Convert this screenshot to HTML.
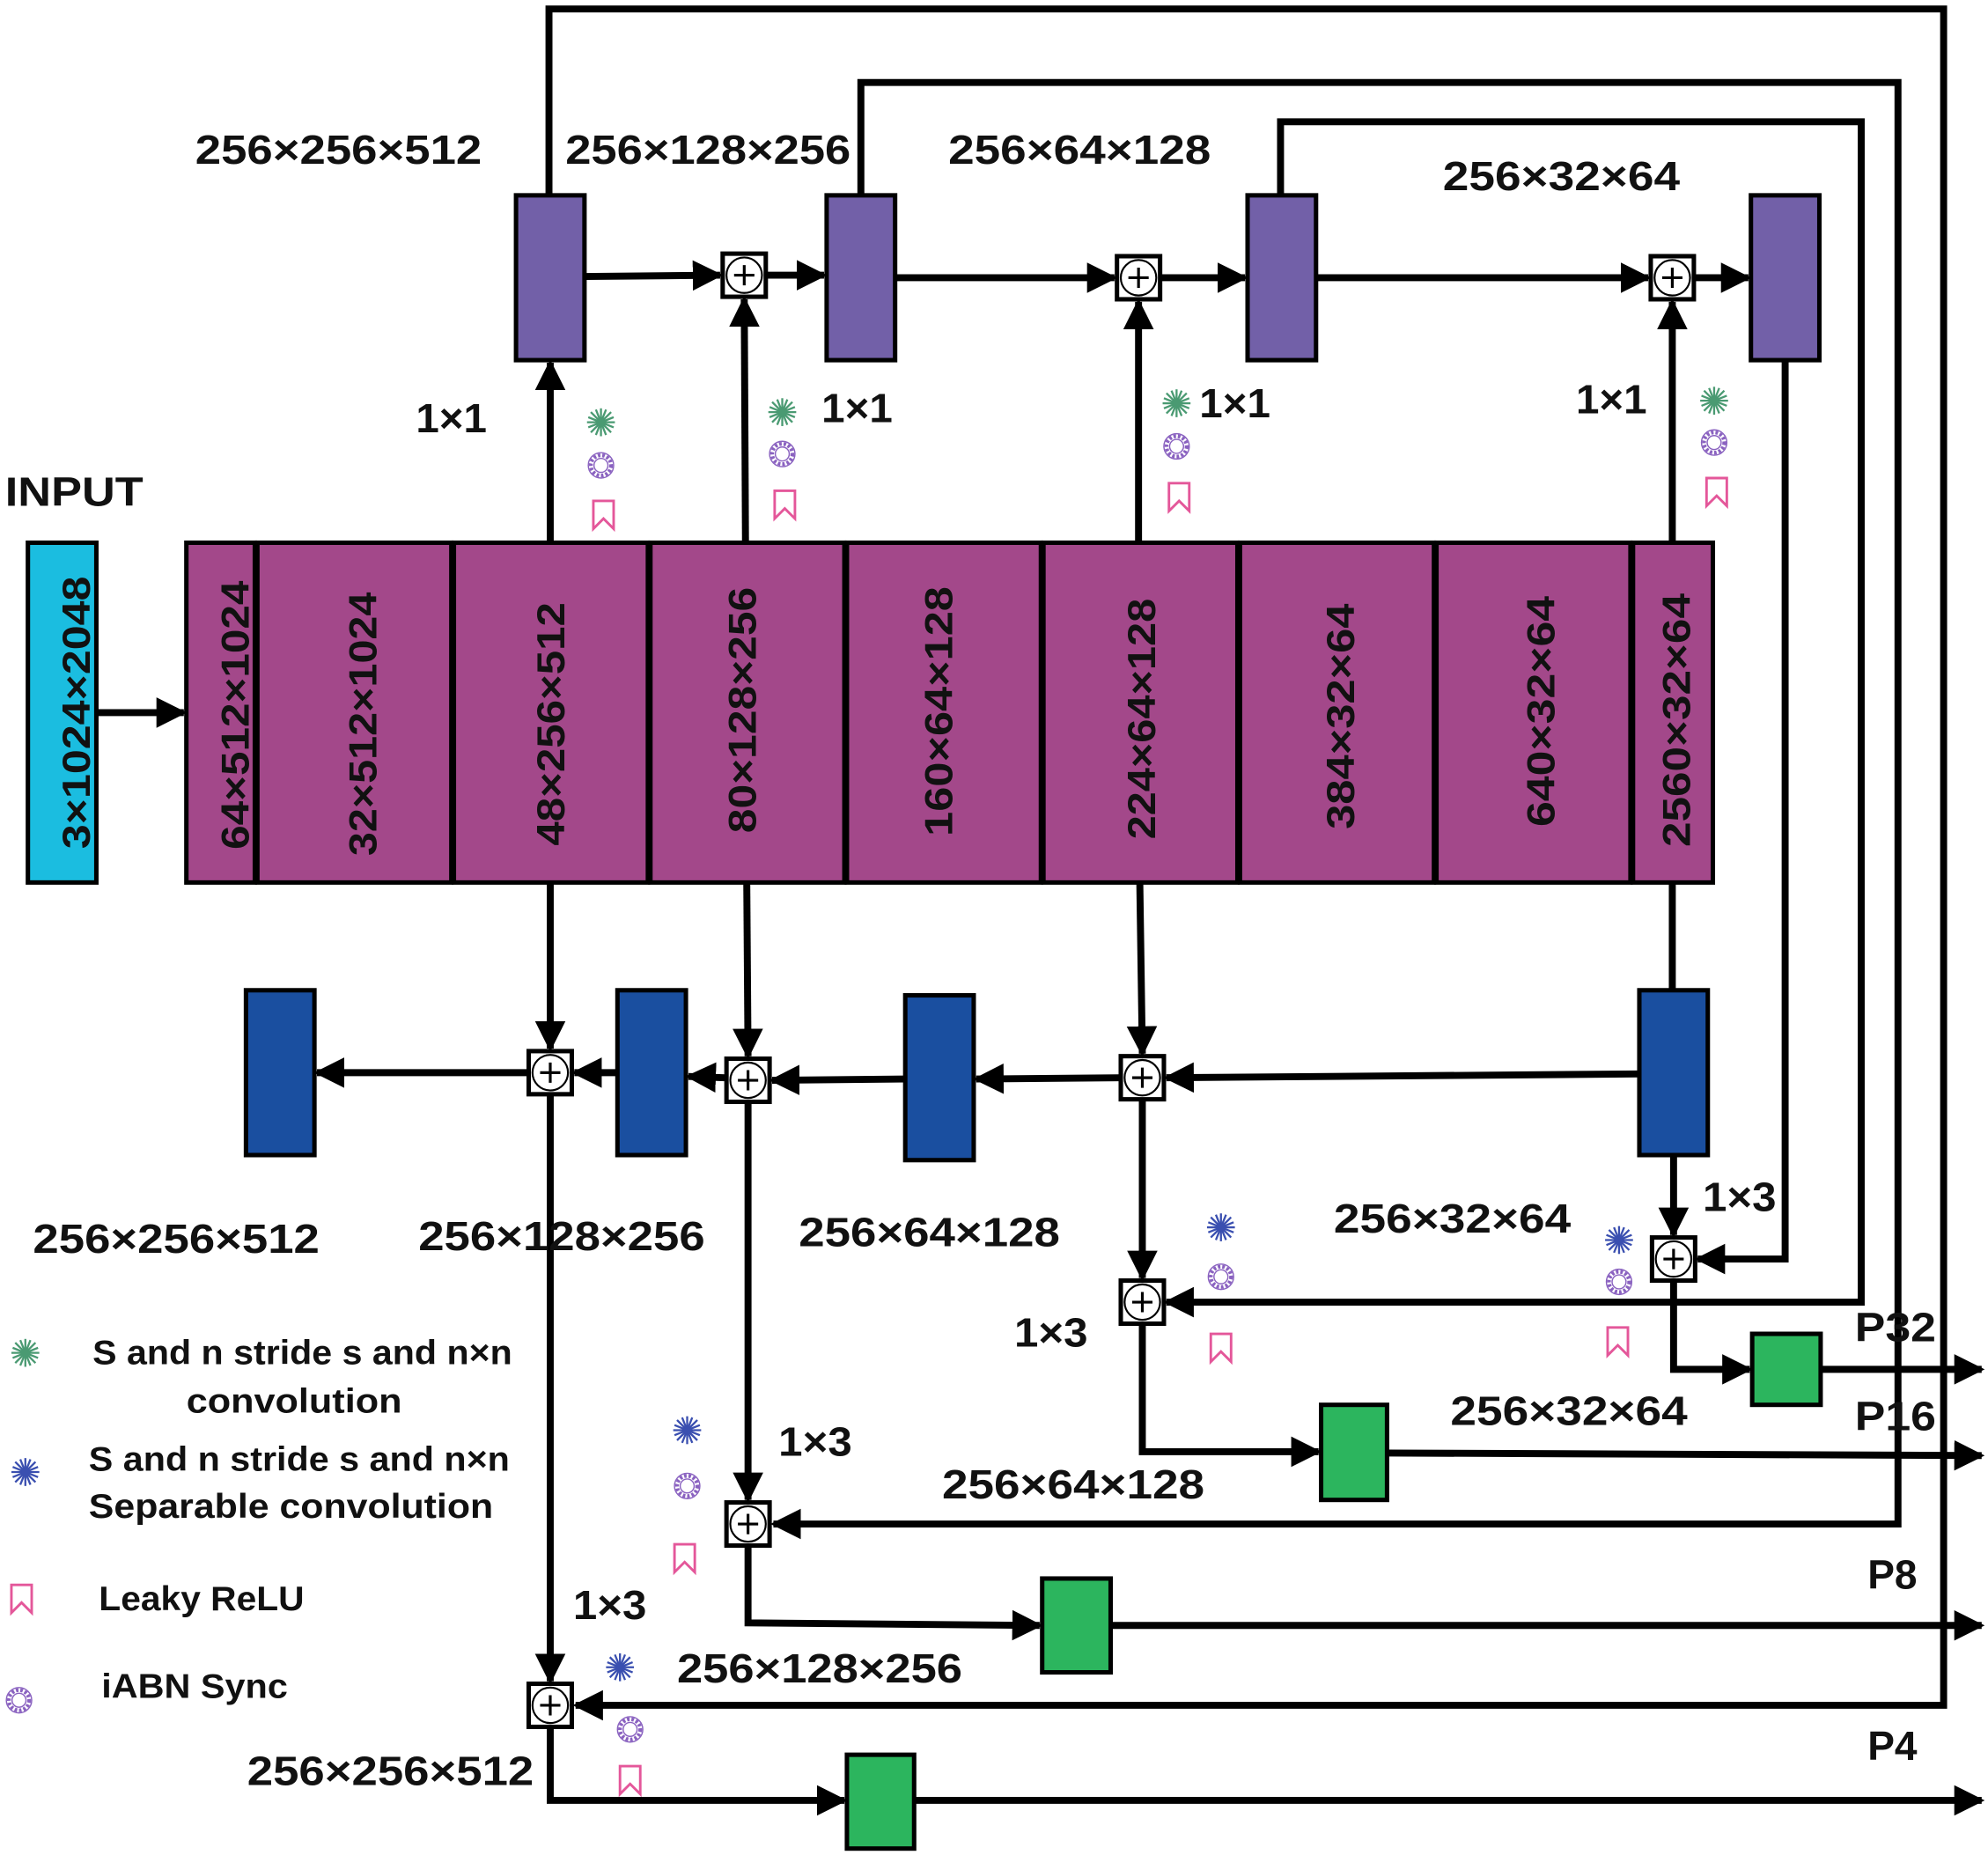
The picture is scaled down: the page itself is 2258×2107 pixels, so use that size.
<!DOCTYPE html>
<html><head><meta charset="utf-8"><style>html,body{margin:0;padding:0;background:#fff}svg{display:block}text{font-family:"Liberation Sans",sans-serif;font-weight:bold;fill:#111}</style></head><body>
<svg width="2258" height="2107" viewBox="0 0 1568 1463" xmlns="http://www.w3.org/2000/svg">
<defs>
<marker id="a" viewBox="0 0 10 10" refX="9" refY="5" markerWidth="24" markerHeight="26" markerUnits="userSpaceOnUse" orient="auto"><path d="M0,0 L10,5 L0,10 z" fill="#000"/></marker>
<g id="gs"><g stroke="#4a9a72" stroke-width="1.6"><line x1="-11" y1="0" x2="11" y2="0"/><line x1="0" y1="-11" x2="0" y2="11"/><line x1="-8" y1="-8" x2="8" y2="8"/><line x1="-8" y1="8" x2="8" y2="-8"/><line x1="-10" y1="-4" x2="10" y2="4"/><line x1="-10" y1="4" x2="10" y2="-4"/><line x1="-4" y1="-10" x2="4" y2="10"/><line x1="4" y1="-10" x2="-4" y2="10"/></g><circle r="3" fill="#4a9a72"/></g>
<g id="bs"><g stroke="#3a4fb0" stroke-width="1.6"><line x1="-11" y1="0" x2="11" y2="0"/><line x1="0" y1="-11" x2="0" y2="11"/><line x1="-8" y1="-8" x2="8" y2="8"/><line x1="-8" y1="8" x2="8" y2="-8"/><line x1="-10" y1="-4" x2="10" y2="4"/><line x1="-10" y1="4" x2="10" y2="-4"/><line x1="-4" y1="-10" x2="4" y2="10"/><line x1="4" y1="-10" x2="-4" y2="10"/></g><circle r="3" fill="#3a4fb0"/></g>
<g id="rg"><circle r="8" fill="none" stroke="#8a62c0" stroke-width="3" stroke-dasharray="2 1.5"/><circle r="10" fill="none" stroke="#8a62c0" stroke-width="1"/><circle r="5.5" fill="none" stroke="#8a62c0" stroke-width="1"/></g>
<path id="bm" d="M-8,-11 L8,-11 L8,11 L0,3 L-8,11 Z" fill="none" stroke="#e4579a" stroke-width="2"/>
<g id="pl"><rect x="-17" y="-17" width="34" height="34" fill="#fff" stroke="#000" stroke-width="3.5"/><circle r="14" fill="#fff" stroke="#000" stroke-width="1.5"/><path d="M-8,0 H8 M0,-8 V8" stroke="#000" stroke-width="2.2"/></g>
</defs>
<g stroke="#000" stroke-width="5.5" fill="none">
<polyline points="433,154 433,7 1533,7 1533,1345 454,1345" marker-end="url(#a)"/>
<polyline points="679,154 679,65 1497,65 1497,1202 610,1202" marker-end="url(#a)"/>
<polyline points="1010,154 1010,96 1468,96 1468,1027 920,1027" marker-end="url(#a)"/>
<polyline points="1408,284 1408,993 1339,993" marker-end="url(#a)"/>
<line x1="461" y1="218" x2="568" y2="217" marker-end="url(#a)"/>
<line x1="604" y1="217" x2="650" y2="217" marker-end="url(#a)"/>
<line x1="706" y1="219" x2="879" y2="219" marker-end="url(#a)"/>
<line x1="915" y1="219" x2="982" y2="219" marker-end="url(#a)"/>
<line x1="1038" y1="219" x2="1300" y2="219" marker-end="url(#a)"/>
<line x1="1336" y1="219" x2="1379" y2="219" marker-end="url(#a)"/>
<line x1="434" y1="428" x2="434" y2="286" marker-end="url(#a)"/>
<line x1="588" y1="428" x2="587" y2="236" marker-end="url(#a)"/>
<line x1="898" y1="428" x2="898" y2="238" marker-end="url(#a)"/>
<line x1="1319" y1="428" x2="1319" y2="238" marker-end="url(#a)"/>
<line x1="76" y1="562" x2="145" y2="562" marker-end="url(#a)"/>
<line x1="434" y1="696" x2="434" y2="827" marker-end="url(#a)"/>
<line x1="589" y1="696" x2="590" y2="833" marker-end="url(#a)"/>
<line x1="899" y1="696" x2="901" y2="831" marker-end="url(#a)"/>
<line x1="1319" y1="696" x2="1319" y2="781"/>
<line x1="1293" y1="847" x2="920" y2="850" marker-end="url(#a)"/>
<line x1="884" y1="850" x2="770" y2="851" marker-end="url(#a)"/>
<line x1="714" y1="851" x2="609" y2="852" marker-end="url(#a)"/>
<line x1="572" y1="850" x2="543" y2="849" marker-end="url(#a)"/>
<line x1="487" y1="846" x2="453" y2="846" marker-end="url(#a)"/>
<line x1="416" y1="846" x2="250" y2="846" marker-end="url(#a)"/>
<line x1="1320" y1="911" x2="1320" y2="974" marker-end="url(#a)"/>
<line x1="901" y1="868" x2="901" y2="1008" marker-end="url(#a)"/>
<line x1="590" y1="870" x2="590" y2="1183" marker-end="url(#a)"/>
<line x1="434" y1="864" x2="434" y2="1326" marker-end="url(#a)"/>
<polyline points="1320,1011 1320,1080 1380,1080" marker-end="url(#a)"/>
<line x1="1436" y1="1080" x2="1563" y2="1080" marker-end="url(#a)"/>
<polyline points="901,1045 901,1145 1040,1145" marker-end="url(#a)"/>
<line x1="1094" y1="1146" x2="1563" y2="1148" marker-end="url(#a)"/>
<polyline points="590,1220 590,1280 820,1282" marker-end="url(#a)"/>
<line x1="876" y1="1282" x2="1563" y2="1282" marker-end="url(#a)"/>
<polyline points="434,1363 434,1420 666,1420" marker-end="url(#a)"/>
<line x1="721" y1="1420" x2="1563" y2="1420" marker-end="url(#a)"/>
</g>
<g stroke="#000" stroke-width="3.5">
<rect x="407" y="154" width="54" height="130" fill="#7260a8"/>
<rect x="652" y="154" width="54" height="130" fill="#7260a8"/>
<rect x="984" y="154" width="54" height="130" fill="#7260a8"/>
<rect x="1381" y="154" width="54" height="130" fill="#7260a8"/>
<rect x="22" y="428" width="54" height="268" fill="#1bbde0"/>
<rect x="147" y="428" width="54" height="268" fill="#a3488a"/>
<rect x="203" y="428" width="153" height="268" fill="#a3488a"/>
<rect x="358" y="428" width="153" height="268" fill="#a3488a"/>
<rect x="513" y="428" width="153" height="268" fill="#a3488a"/>
<rect x="668" y="428" width="153" height="268" fill="#a3488a"/>
<rect x="823" y="428" width="153" height="268" fill="#a3488a"/>
<rect x="978" y="428" width="153" height="268" fill="#a3488a"/>
<rect x="1133" y="428" width="153" height="268" fill="#a3488a"/>
<rect x="1288" y="428" width="63" height="268" fill="#a3488a"/>
<rect x="194" y="781" width="54" height="130" fill="#1a4fa0"/>
<rect x="487" y="781" width="54" height="130" fill="#1a4fa0"/>
<rect x="714" y="785" width="54" height="130" fill="#1a4fa0"/>
<rect x="1293" y="781" width="54" height="130" fill="#1a4fa0"/>
<rect x="1382" y="1052" width="54" height="56" fill="#2cb55e"/>
<rect x="1042" y="1108" width="52" height="75" fill="#2cb55e"/>
<rect x="822" y="1245" width="54" height="74" fill="#2cb55e"/>
<rect x="668" y="1384" width="53" height="74" fill="#2cb55e"/>
</g>
<use href="#pl" x="587" y="217"/><use href="#pl" x="898" y="219"/><use href="#pl" x="1319" y="219"/>
<use href="#pl" x="434" y="846"/><use href="#pl" x="590" y="852"/><use href="#pl" x="901" y="850"/>
<use href="#pl" x="1320" y="993"/><use href="#pl" x="901" y="1027"/><use href="#pl" x="590" y="1202"/><use href="#pl" x="434" y="1345"/>
<g font-size="31" text-anchor="middle" lengthAdjust="spacingAndGlyphs">
<text transform="translate(60,562) rotate(-90)" dy="11" textLength="215" lengthAdjust="spacingAndGlyphs">3×1024×2048</text>
<text transform="translate(185,564) rotate(-90)" dy="11" textLength="212" lengthAdjust="spacingAndGlyphs">64×512×1024</text>
<text transform="translate(286,571) rotate(-90)" dy="11" textLength="208" lengthAdjust="spacingAndGlyphs">32×512×1024</text>
<text transform="translate(434,571) rotate(-90)" dy="11" textLength="192" lengthAdjust="spacingAndGlyphs">48×256×512</text>
<text transform="translate(585,560) rotate(-90)" dy="11" textLength="194" lengthAdjust="spacingAndGlyphs">80×128×256</text>
<text transform="translate(740,561) rotate(-90)" dy="11" textLength="197" lengthAdjust="spacingAndGlyphs">160×64×128</text>
<text transform="translate(900,567) rotate(-90)" dy="11" textLength="190" lengthAdjust="spacingAndGlyphs">224×64×128</text>
<text transform="translate(1057,565) rotate(-90)" dy="11" textLength="178" lengthAdjust="spacingAndGlyphs">384×32×64</text>
<text transform="translate(1215,561) rotate(-90)" dy="11" textLength="182" lengthAdjust="spacingAndGlyphs">640×32×64</text>
<text transform="translate(1322,568) rotate(-90)" dy="11" textLength="200" lengthAdjust="spacingAndGlyphs">2560×32×64</text>
</g>
<g font-size="32">
<text x="154" y="129" textLength="226" lengthAdjust="spacingAndGlyphs">256×256×512</text>
<text x="446" y="129" textLength="225" lengthAdjust="spacingAndGlyphs">256×128×256</text>
<text x="748" y="129" textLength="207" lengthAdjust="spacingAndGlyphs">256×64×128</text>
<text x="1138" y="150" textLength="187" lengthAdjust="spacingAndGlyphs">256×32×64</text>
<text x="328" y="341" textLength="56" lengthAdjust="spacingAndGlyphs">1×1</text>
<text x="648" y="333" textLength="56" lengthAdjust="spacingAndGlyphs">1×1</text>
<text x="946" y="329" textLength="56" lengthAdjust="spacingAndGlyphs">1×1</text>
<text x="1243" y="326" textLength="56" lengthAdjust="spacingAndGlyphs">1×1</text>
<text x="4" y="399" textLength="109" lengthAdjust="spacingAndGlyphs">INPUT</text>
<text x="26" y="988" textLength="226" lengthAdjust="spacingAndGlyphs">256×256×512</text>
<text x="330" y="986" textLength="226" lengthAdjust="spacingAndGlyphs">256×128×256</text>
<text x="630" y="983" textLength="206" lengthAdjust="spacingAndGlyphs">256×64×128</text>
<text x="1052" y="972" textLength="187" lengthAdjust="spacingAndGlyphs">256×32×64</text>
<text x="1343" y="955" textLength="58" lengthAdjust="spacingAndGlyphs">1×3</text>
<text x="800" y="1062" textLength="58" lengthAdjust="spacingAndGlyphs">1×3</text>
<text x="1144" y="1124" textLength="187" lengthAdjust="spacingAndGlyphs">256×32×64</text>
<text x="743" y="1182" textLength="207" lengthAdjust="spacingAndGlyphs">256×64×128</text>
<text x="614" y="1148" textLength="58" lengthAdjust="spacingAndGlyphs">1×3</text>
<text x="452" y="1277" textLength="58" lengthAdjust="spacingAndGlyphs">1×3</text>
<text x="534" y="1327" textLength="225" lengthAdjust="spacingAndGlyphs">256×128×256</text>
<text x="195" y="1408" textLength="226" lengthAdjust="spacingAndGlyphs">256×256×512</text>
<text x="1463" y="1058" textLength="64" lengthAdjust="spacingAndGlyphs">P32</text>
<text x="1463" y="1128" textLength="64" lengthAdjust="spacingAndGlyphs">P16</text>
<text x="1473" y="1253">P8</text>
<text x="1473" y="1388">P4</text>
</g>
<g font-size="27">
<text x="73" y="1076" textLength="331" lengthAdjust="spacingAndGlyphs">S and n stride s and n×n</text>
<text x="147" y="1114" textLength="170" lengthAdjust="spacingAndGlyphs">convolution</text>
<text x="70" y="1160" textLength="332" lengthAdjust="spacingAndGlyphs">S and n stride s and n×n</text>
<text x="70" y="1197" textLength="319" lengthAdjust="spacingAndGlyphs">Separable convolution</text>
<text x="78" y="1270" textLength="162" lengthAdjust="spacingAndGlyphs">Leaky ReLU</text>
<text x="80" y="1339" textLength="147" lengthAdjust="spacingAndGlyphs">iABN Sync</text>
</g>
<use href="#gs" x="474" y="333"/><use href="#rg" x="474" y="367"/><use href="#bm" x="476" y="406"/>
<use href="#gs" x="617" y="325"/><use href="#rg" x="617" y="358"/><use href="#bm" x="619" y="398"/>
<use href="#gs" x="928" y="318"/><use href="#rg" x="928" y="352"/><use href="#bm" x="930" y="392"/>
<use href="#gs" x="1352" y="316"/><use href="#rg" x="1352" y="349"/><use href="#bm" x="1354" y="388"/>
<use href="#bs" x="963" y="968"/><use href="#rg" x="963" y="1007"/><use href="#bm" x="963" y="1063"/>
<use href="#bs" x="1277" y="978"/><use href="#rg" x="1277" y="1011"/><use href="#bm" x="1276" y="1058"/>
<use href="#bs" x="542" y="1128"/><use href="#rg" x="542" y="1172"/><use href="#bm" x="540" y="1229"/>
<use href="#bs" x="489" y="1315"/><use href="#rg" x="497" y="1364"/><use href="#bm" x="497" y="1404"/>
<use href="#gs" x="20" y="1067"/><use href="#bs" x="20" y="1161"/><use href="#bm" x="17" y="1261"/><use href="#rg" x="15" y="1341"/>
</svg>
</body></html>
